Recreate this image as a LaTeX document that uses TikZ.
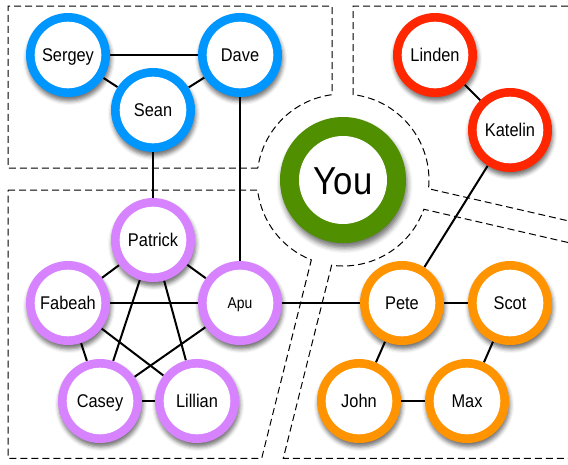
\documentclass[tikz,border=0pt]{standalone}
\usepackage{fontspec}
\setmainfont{Liberation Sans}
\newfontfamily\nodefont{Liberation Sans}[FakeStretch=0.89]
\usetikzlibrary{backgrounds,shadows.blur}
\definecolor{cblue}{RGB}{0,150,255}
\definecolor{cgreen}{RGB}{79,143,0}
\definecolor{cred}{RGB}{255,38,0}
\definecolor{cpurple}{RGB}{215,131,255}
\definecolor{corange}{RGB}{255,147,0}
\tikzset{
  person/.style={circle, fill=#1, minimum size=84pt, inner sep=0pt,
    font=\nodefont\fontsize{18.4}{20}\selectfont, text=black,
    text height=13.2pt, text depth=0pt,
    blur shadow={shadow xshift=1pt, shadow yshift=-4pt, shadow blur radius=4pt, shadow opacity=55},
    path picture={\fill[white] (path picture bounding box.center) circle[radius=33.3pt];}},
  youstyle/.style={circle, fill=cgreen, minimum size=126pt, inner sep=0pt,
    font=\nodefont\fontsize{39}{42}\selectfont, text=black,
    text height=28pt, text depth=0pt,
    blur shadow={shadow xshift=1.5pt, shadow yshift=-5pt, shadow blur radius=5pt, shadow opacity=55},
    path picture={\fill[white] (path picture bounding box.center) circle[radius=44pt];}},
  edge/.style={line width=2pt, black},
  region/.style={line width=1pt, black, dash pattern=on 7pt off 4pt},
}
\begin{document}
\begin{tikzpicture}[x=1pt, y=-1pt]
\useasboundingbox (0,0) rectangle (568,464);
% nodes
\node[person=cblue] (Sergey) at (68,55) {Sergey};
\node[person=cblue] (Dave) at (240,55) {Dave};
\node[person=cblue] (Sean) at (153,110) {Sean};
\node[person=cred] (Linden) at (435,55) {Linden};
\node[person=cred] (Katelin) at (510,130) {Katelin};
\node[youstyle] (You) at (343,180) {You};
\node[person=cpurple] (Patrick) at (153,240) {Patrick};
\node[person=cpurple, font=\nodefont\fontsize{15.6}{17}\selectfont, text height=11.2pt] (Apu) at (240,303) {Apu};
\node[person=cpurple] (Fabeah) at (68,303) {Fabeah};
\node[person=cpurple] (Casey) at (100,401) {Casey};
\node[person=cpurple] (Lillian) at (197,401) {Lillian};
\node[person=corange] (Pete) at (402,303) {Pete};
\node[person=corange] (Scot) at (510,303) {Scot};
\node[person=corange] (John) at (359,401) {John};
\node[person=corange] (Max) at (467,401) {Max};
\begin{pgfonlayer}{background}
% regions
\draw[region] (257.84,168) -- (8,168) -- (8,6) -- (332,6) -- (332,94.7)
  arc[start angle=-97.35, end angle=-171.98, radius=86];
\draw[region] (568,6) -- (353,6) -- (353,94.6)
  arc[start angle=-83.3, end angle=5.8, radius=86] -- (568,220.8);
\draw[region] (568,242.5) -- (423.87,209.27)
  arc[start angle=19.9, end angle=97.6, radius=86] -- (283.3,458.3) -- (568,458.3);
\draw[region] (8,190) -- (257.59,190)
  arc[start angle=173.3, end angle=111.6, radius=86] -- (261.7,458.3) -- (8,458.3) -- cycle;
% edges
\draw[edge] (Sergey) -- (Dave);
\draw[edge] (Sergey) -- (Sean);
\draw[edge] (Dave) -- (Sean);
\draw[edge] (Sean) -- (Patrick);
\draw[edge] (Dave) -- (Apu);
\draw[edge] (Patrick) -- (Fabeah);
\draw[edge] (Patrick) -- (Apu);
\draw[edge] (Patrick) -- (Casey);
\draw[edge] (Patrick) -- (Lillian);
\draw[edge] (Fabeah) -- (Apu);
\draw[edge] (Fabeah) -- (Casey);
\draw[edge] (Fabeah) -- (Lillian);
\draw[edge] (Apu) -- (Casey);
\draw[edge] (Casey) -- (Lillian);
\draw[edge] (Apu) -- (Pete);
\draw[edge] (Pete) -- (Scot);
\draw[edge] (Pete) -- (John);
\draw[edge] (Scot) -- (Max);
\draw[edge] (John) -- (Max);
\draw[edge] (Linden) -- (Katelin);
\draw[edge] (Katelin) -- (Pete);
\end{pgfonlayer}
\end{tikzpicture}
\end{document}
